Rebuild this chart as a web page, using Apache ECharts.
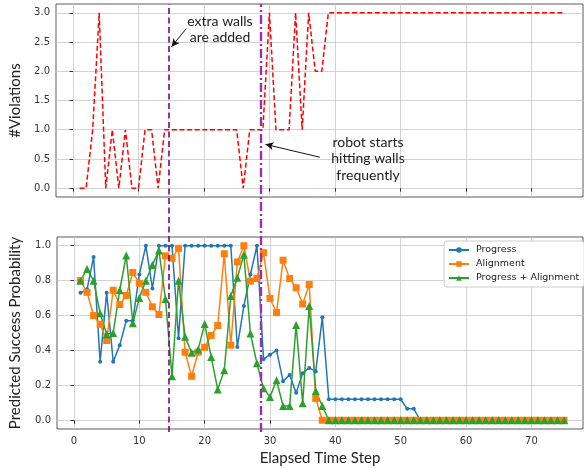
<!DOCTYPE html>
<html>
<head>
<meta charset="utf-8">
<script src="https://cdn.jsdelivr.net/npm/echarts@6/dist/echarts.min.js"></script>
<style>
  html, body {margin: 0; padding: 0; background: #fff;}
  #main {width: 584px; height: 468px;}
</style>
</head>
<body>
<div id="main"></div>
<script>
// elapsed time steps
const steps = [
  1, 2, 3, 4, 5, 6, 7, 8, 9, 10,
  11, 12, 13, 14, 15, 16, 17, 18, 19, 20,
  21, 22, 23, 24, 25, 26, 27, 28, 29, 30,
  31, 32, 33, 34, 35, 36, 37, 38, 39, 40,
  41, 42, 43, 44, 45, 46, 47, 48, 49, 50,
  51, 52, 53, 54, 55, 56, 57, 58, 59, 60,
  61, 62, 63, 64, 65, 66, 67, 68, 69, 70,
  71, 72, 73, 74, 75
];

// #violations (top panel)
const violations = [
  0, 0, 1, 3, 0, 1, 0, 1, 0, 0,
  1, 1, 0, 1, 1, 1, 1, 1, 1, 1,
  1, 1, 1, 1, 1, 0, 1, 1, 1, 3,
  1, 1, 1, 3, 1, 3, 2, 2, 3, 3,
  3, 3, 3, 3, 3, 3, 3, 3, 3, 3,
  3, 3, 3, 3, 3, 3, 3, 3, 3, 3,
  3, 3, 3, 3, 3, 3, 3, 3, 3, 3,
  3, 3, 3, 3, 3
];

// predicted success probability (bottom panel)
const progress = [
  0.73, 0.75, 0.935, 0.335, 0.73, 0.335, 0.43, 0.57, 0.57, 0.835,
  1, 0.755, 1, 1, 1, 0.47, 1, 1, 1, 1,
  1, 1, 1, 1, 0.42, 0.655, 0.835, 1, 0.35, 0.376,
  0.40, 0.224, 0.26, 0.157, 0.27, 0.30, 0.28, 0.59, 0.12, 0.12,
  0.12, 0.12, 0.12, 0.12, 0.12, 0.12, 0.12, 0.12, 0.12, 0.12,
  0.066, 0.066, 0, 0, 0, 0, 0, 0, 0, 0,
  0, 0, 0, 0, 0, 0, 0, 0, 0, 0,
  0, 0, 0, 0, 0
];
const alignment = [
  0.80, 0.733, 0.60, 0.55, 0.457, 0.745, 0.663, 0.715, 0.847, 0.785,
  0.733, 0.65, 0.606, 0.942, 0.928, 0.985, 0.39, 0.252, 0.39, 0.418,
  0.486, 0.543, 0.954, 0.43, 0.907, 1, 0.797, 0.812, 0.96, 0.698,
  0.617, 0.917, 0.812, 0.759, 0.666, 0.778, 0.125, 0, 0, 0,
  0, 0, 0, 0, 0, 0, 0, 0, 0, 0,
  0, 0, 0, 0, 0, 0, 0, 0, 0, 0,
  0, 0, 0, 0, 0, 0, 0, 0, 0, 0,
  0, 0, 0, 0, 0
];
const progressAlignment = [
  0.80, 0.867, 0.80, 0.613, 0.493, 0.50, 0.745, 0.944, 0.556, 0.70,
  0.80, 0.89, 0.973, 0.695, 0.252, 0.80, 0.478, 0.387, 0.405, 0.552,
  0.362, 0.177, 0.286, 0.712, 0.816, 0.949, 0.497, 0.326, 0.183, 0.134,
  0.229, 0.082, 0.082, 0.546, 0.097, 0.655, 0.167, 0.082, 0, 0,
  0, 0, 0, 0, 0, 0, 0, 0, 0, 0,
  0, 0, 0, 0, 0, 0, 0, 0, 0, 0,
  0, 0, 0, 0, 0, 0, 0, 0, 0, 0,
  0, 0, 0, 0, 0
];

// tick labels / events
const xTicks = [0, 10, 20, 30, 40, 50, 60, 70];
const violationTicks = [0, 0.5, 1, 1.5, 2, 2.5, 3];
const probTicks = [0, 0.2, 0.4, 0.6, 0.8, 1];
const eventSteps = [15, 29]; // extra walls added, robot starts hitting walls

const pairs = (ys) => steps.map((x, i) => [x, ys[i]]);

const tickFont = {fontFamily: 'DejaVu Sans', fontSize: 10, color: '#333'};
const titleFont = {fontFamily: 'Lato', fontSize: 15, color: '#222'};
const gridLine = {show: true, lineStyle: {color: '#c8c8c8', width: 0.8}};

const xAxisBase = (gi, labels) => ({
  type: 'value', gridIndex: gi, min: -2.6, max: 77.9,
  axisLine: {show: false},
  axisTick: {show: true, inside: false, length: 3.5, customValues: xTicks, lineStyle: {color: '#333'}},
  axisLabel: Object.assign({show: labels, margin: 7, customValues: xTicks,
    formatter: v => String(v)}, tickFont),
  splitLine: gridLine
});

const yAxisBase = (gi, min, max, ticks, name, gap) => ({
  type: 'value', gridIndex: gi, min: min, max: max,
  name: name, nameLocation: 'middle', nameGap: gap, nameTextStyle: titleFont,
  axisLine: {show: false},
  axisTick: {show: true, inside: false, length: 3.5, customValues: ticks, lineStyle: {color: '#333'}},
  axisLabel: Object.assign({margin: 6, customValues: ticks, formatter: v => v.toFixed(1)}, tickFont),
  splitLine: gridLine
});

const chart = echarts.init(document.getElementById('main'), null, {renderer: 'canvas'});

chart.setOption({
  animation: false,
  backgroundColor: '#fff',
  grid: [
    {left: 53, top: 4, width: 530, height: 193, show: true, borderColor: '#333', borderWidth: 0.8, backgroundColor: 'transparent'},
    {left: 53, top: 237, width: 530, height: 192, show: true, borderColor: '#333', borderWidth: 0.8, backgroundColor: 'transparent'},
    {left: 53, top: 4, width: 530, height: 428, show: false}
  ],
  xAxis: [
    xAxisBase(0, false),
    Object.assign(xAxisBase(1, true), {
      name: 'Elapsed Time Step', nameLocation: 'middle', nameGap: 22, nameTextStyle: titleFont
    }),
    {type: 'value', gridIndex: 2, min: -2.6, max: 77.9, show: false}
  ],
  yAxis: [
    yAxisBase(0, -0.15, 3.15, violationTicks, '#Violations', 33),
    yAxisBase(1, -0.05, 1.05, probTicks, 'Predicted Success Probability', 34),
    {type: 'value', gridIndex: 2, min: 0, max: 1, show: false}
  ],
  legend: {
    orient: 'vertical', left: 444, top: 241,
    backgroundColor: '#fff', borderColor: '#ccc', borderWidth: 1, borderRadius: 3,
    padding: [4, 5, 4, 4], itemGap: 4, itemWidth: 20, itemHeight: 7,
    textStyle: {fontFamily: 'DejaVu Sans', fontSize: 9.5, color: '#222', padding: [0, 0, 0, 2]},
    data: ['Progress', 'Alignment', 'Progress + Alignment']
  },
  graphic: [
    {type: 'text', x: 220, y: 13, z: 50,
      style: {text: 'extra walls\nare added', textAlign: 'center',
        font: '14px Lato', fill: '#222', lineHeight: 16.5}},
    {type: 'text', x: 368, y: 134, z: 50,
      style: {text: 'robot starts\nhitting walls\nfrequently', textAlign: 'center',
        font: '14px Lato', fill: '#222', lineHeight: 16.5}}
  ],
  series: [
    {
      name: 'Violations', type: 'line', xAxisIndex: 0, yAxisIndex: 0,
      data: pairs(violations), showSymbol: false, symbol: 'none',
      lineStyle: {color: '#ff0000', width: 1.5, type: [5, 2.6]},
      markLine: {
        silent: true, symbol: ['none', 'arrow'], symbolSize: [6, 8],
        label: {show: false},
        lineStyle: {color: '#111', width: 1, type: 'solid'},
        data: [
          [{coord: [17.3, 2.73]}, {coord: [15.05, 2.42]}],
          [{coord: [37.7, 0.53]}, {coord: [29.4, 0.75]}]
        ]
      }
    },
    {
      name: 'Progress', type: 'line', xAxisIndex: 1, yAxisIndex: 1,
      data: pairs(progress), symbol: 'circle', symbolSize: 4,
      color: '#1f77b4', lineStyle: {width: 1.5}, itemStyle: {color: '#1f77b4'}
    },
    {
      name: 'Alignment', type: 'line', xAxisIndex: 1, yAxisIndex: 1,
      data: pairs(alignment), symbol: 'rect', symbolSize: 7,
      color: '#ff7f0e', lineStyle: {width: 1.5}, itemStyle: {color: '#ff7f0e'}
    },
    {
      name: 'Progress + Alignment', type: 'line', xAxisIndex: 1, yAxisIndex: 1,
      data: pairs(progressAlignment), symbol: 'triangle', symbolSize: 8,
      color: '#2ca02c', lineStyle: {width: 1.5}, itemStyle: {color: '#2ca02c'}
    },
    {
      name: 'events', type: 'line', xAxisIndex: 2, yAxisIndex: 2, data: [], z: 20,
      markLine: {
        silent: true, symbol: 'none', label: {show: false},
        data: [
          {xAxis: eventSteps[0], lineStyle: {color: '#800080', width: 1.6, type: [6, 3.5]}},
          {xAxis: eventSteps[1], lineStyle: {color: '#9b2fae', width: 2.4, type: [9, 3, 2, 3]}}
        ]
      }
    }
  ]
});
</script>
</body>
</html>
